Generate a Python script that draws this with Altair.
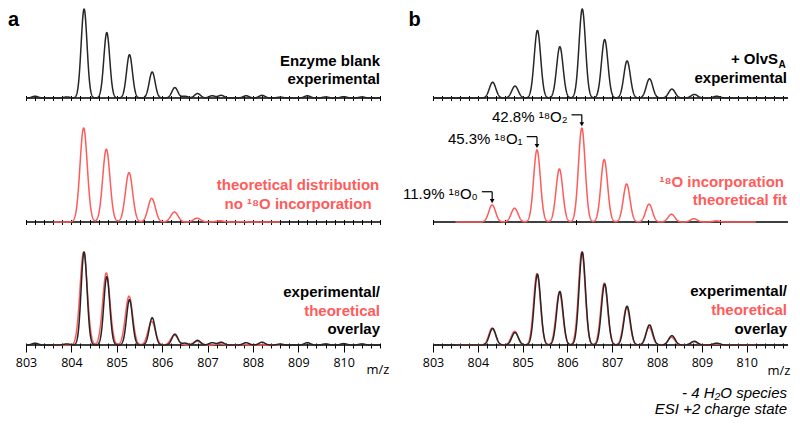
import numpy as np
import pandas as pd
import altair as alt

# ---------------- data ----------------
# left (a): enzyme blank, experimental (black) - peaks + small baseline bumps
L_EXP_MZ = [803.20, 803.90, 804.28, 804.78, 805.28, 805.78, 806.28, 806.50, 806.78,
            807.10, 807.30, 807.85, 808.20, 808.60, 809.20, 809.60, 810.00, 810.40]
L_EXP_INT = [0.020, 0.012, 1.000, 0.735, 0.487, 0.293, 0.117, 0.020, 0.050,
             0.025, 0.030, 0.025, 0.030, 0.010, 0.025, 0.012, 0.015, 0.012]
# left (a): theoretical distribution, no 18O (red)
L_TH_MZ = [804.27, 804.77, 805.27, 805.77, 806.27, 806.77, 807.27, 807.77]
L_TH_INT = [1.000, 0.775, 0.525, 0.252, 0.106, 0.040, 0.013, 0.004]
# right (b): + OlvS_A experimental (black)
R_EXP_MZ = [804.33, 804.83, 805.33, 805.83, 806.33, 806.83, 807.33, 807.83, 808.33, 808.83, 809.33]
R_EXP_INT = [0.177, 0.134, 0.760, 0.576, 1.000, 0.657, 0.417, 0.216, 0.100, 0.040, 0.020]
# right (b): 18O incorporation theoretical fit (red)
R_TH_MZ = [804.32, 804.82, 805.32, 805.82, 806.32, 806.82, 807.32, 807.82, 808.32, 808.82, 809.32]
R_TH_INT = [0.182, 0.147, 0.768, 0.565, 1.000, 0.665, 0.404, 0.190, 0.083, 0.035, 0.012]
# annotations of the fit
ANN_MZ = [804.32, 805.32, 806.32]
ANN_PEAK = [0.182, 0.768, 1.000]
ANN_LABEL = ["11.9% \u00b9\u2078O\u2080", "45.3% \u00b9\u2078O\u2081", "42.8% \u00b9\u2078O\u2082"]

TICKS = [round(803 + 0.2 * i, 1) for i in range(40)]

RED = "#ff5b5b"
BLACK = "#262626"
FONT = "Liberation Sans"

LW, RW = 354, 355
H1, H2, H3 = 89, 94, 93
LDOM = [803, 810.8]
RDOM = [803, 810.92]
YS = alt.Scale(domain=[0, 1], nice=False)


def spectrum(mz, inten, sigma, lo, hi):
    x = np.round(np.arange(lo, hi + 1e-9, 0.004), 3)
    y = np.zeros_like(x)
    for c, h in zip(mz, inten):
        y += h * np.exp(-0.5 * ((x - c) / sigma) ** 2)
    return pd.DataFrame({"mz": x, "intensity": y})


def xaxis(labels):
    if labels:
        return alt.Axis(values=TICKS, title=None, grid=False, domain=False,
                        tickColor="black", tickWidth=1,
                        tickSize={"condition": {"test": "datum.value % 1 === 0", "value": 9}, "value": 5},
                        offset=-2, labelExpr="datum.value % 1 === 0 ? format(datum.value, 'd') : ''",
                        labelFont="Open Sans", labelFontSize=12.5, labelColor="black",
                        labelPadding=4, labelOverlap=False, labelFlush=False)
    return alt.Axis(values=TICKS, title=None, grid=False, domain=False, labels=False,
                    tickColor="black", tickWidth=1, tickSize=5, offset=-2.5)


def baseline():
    return alt.Chart(pd.DataFrame({"v": [0.0]})).mark_rule(color="black", strokeWidth=1.6).encode(
        y=alt.Y("v:Q", scale=YS, axis=None))


def line(df, color, dom, labels, width=1.5):
    return alt.Chart(df).mark_line(color=color, strokeWidth=width, strokeJoin="round").encode(
        x=alt.X("mz:Q", scale=alt.Scale(domain=dom, nice=False, zero=False), axis=xaxis(labels)),
        y=alt.Y("intensity:Q", scale=YS, axis=None),
    )


def txt(s, x, y, color="black", size=15, weight="bold", align="right", style="normal",
        font=FONT, baseline="alphabetic"):
    return alt.Chart(pd.DataFrame({"t": [s]})).mark_text(
        align=align, baseline=baseline, font=font, fontSize=size, fontWeight=weight,
        fontStyle=style, color=color).encode(x=alt.value(x), y=alt.value(y), text="t:N")


l_exp = spectrum(L_EXP_MZ, L_EXP_INT, 0.065, 803.0, 810.8)
l_th = spectrum(L_TH_MZ, L_TH_INT, 0.08, 803.6, 808.6)
r_exp = spectrum(R_EXP_MZ, R_EXP_INT, 0.072, 803.0, 810.92)
r_th = spectrum(R_TH_MZ, R_TH_INT, 0.075, 803.5, 810.2)

# ---------- left column ----------
a1 = alt.layer(
    baseline(),
    line(l_exp, BLACK, LDOM, False),
    txt("Enzyme blank", LW, 56.5),
    txt("experimental", LW, 74.5),
    txt("a", -18, 17, size=20, align="left"),
).properties(width=LW, height=H1)

a2 = alt.layer(
    baseline(),
    line(l_th, RED, LDOM, False),
    txt("theoretical distribution", 272, 62, color=RED, align="center"),
    txt("no \u00b9\u2078O incorporation", 272, 80.5, color=RED, align="center"),
).properties(width=LW, height=H2)

a3 = alt.layer(
    baseline(),
    line(l_th, RED, LDOM, True),
    line(l_exp, BLACK, LDOM, True),
    txt("experimental/", LW, 45),
    txt("theoretical", LW, 63.5, color=RED),
    txt("overlay", LW, 81.5),
    txt("m/z", 352, 118, size=13, weight="normal", align="center", font="Open Sans", baseline="middle"),
).properties(width=LW, height=H3)

# ---------- right column ----------
b1 = alt.layer(
    baseline(),
    line(r_exp, BLACK, RDOM, False),
    txt("+ OlvS", 345, 54.5),
    txt("A", 345.5, 58.5, size=10, align="left"),
    txt("experimental", RW - 1, 73.5),
    txt("b", -24.5, 17, size=20, align="left"),
).properties(width=RW, height=H1)

ann = pd.DataFrame({"mz": ANN_MZ, "peak": ANN_PEAK, "label": ANN_LABEL})
ann["hy"] = ann["peak"] + 0.14
ann["tip"] = ann["peak"] + 0.04
ann["x0"] = ann["mz"] - 0.23
xs_r = alt.Scale(domain=RDOM, nice=False, zero=False)
ann_h = alt.Chart(ann).mark_rule(color="black", strokeWidth=1.2).encode(
    x=alt.X("x0:Q", scale=xs_r), x2="mz:Q", y=alt.Y("hy:Q", scale=YS))
ann_v = alt.Chart(ann).mark_rule(color="black", strokeWidth=1.2).encode(
    x=alt.X("mz:Q", scale=xs_r), y=alt.Y("hy:Q", scale=YS), y2="tip:Q")
ann_tip = alt.Chart(ann).mark_point(shape="triangle-down", filled=True, size=22, color="black",
                                    opacity=1).encode(
    x=alt.X("mz:Q", scale=xs_r), y=alt.Y("tip:Q", scale=YS))
ann_t = alt.Chart(ann).mark_text(align="right", baseline="middle", dx=-4, dy=2, font=FONT,
                                 fontSize=15, color="black").encode(
    x=alt.X("x0:Q", scale=xs_r), y=alt.Y("hy:Q", scale=YS), text="label:N")

b2 = alt.layer(
    baseline(),
    line(r_th, RED, RDOM, False),
    ann_h, ann_v, ann_tip, ann_t,
    txt("\u00b9\u2078O incorporation", RW - 4, 59, color=RED),
    txt("theoretical fit", RW - 1, 77, color=RED),
).properties(width=RW, height=H2)

b3 = alt.layer(
    baseline(),
    line(r_th, RED, RDOM, True),
    line(r_exp, BLACK, RDOM, True),
    txt("experimental/", RW - 1, 44),
    txt("theoretical", RW - 1, 63, color=RED),
    txt("overlay", RW - 1, 81.5),
    txt("m/z", 346, 118.5, size=13, weight="normal", align="center", font="Open Sans", baseline="middle"),
    txt("- 4 H\u2082O species", RW - 1, 146, weight="normal", style="italic"),
    txt("ESI +2 charge state", RW - 1, 162, weight="normal", style="italic"),
).properties(width=RW, height=H3)

chart = alt.concat(a1, b1, a2, b2, a3, b3, columns=2,
                   spacing={"row": 30, "column": 53}, bounds="flush").properties(
    padding={"left": 0, "top": 0, "right": 0, "bottom": 0}
).configure_view(stroke=None).resolve_scale(x="independent", y="independent")

chart.save("out.html", embed_options={"renderer": "svg", "actions": False})
